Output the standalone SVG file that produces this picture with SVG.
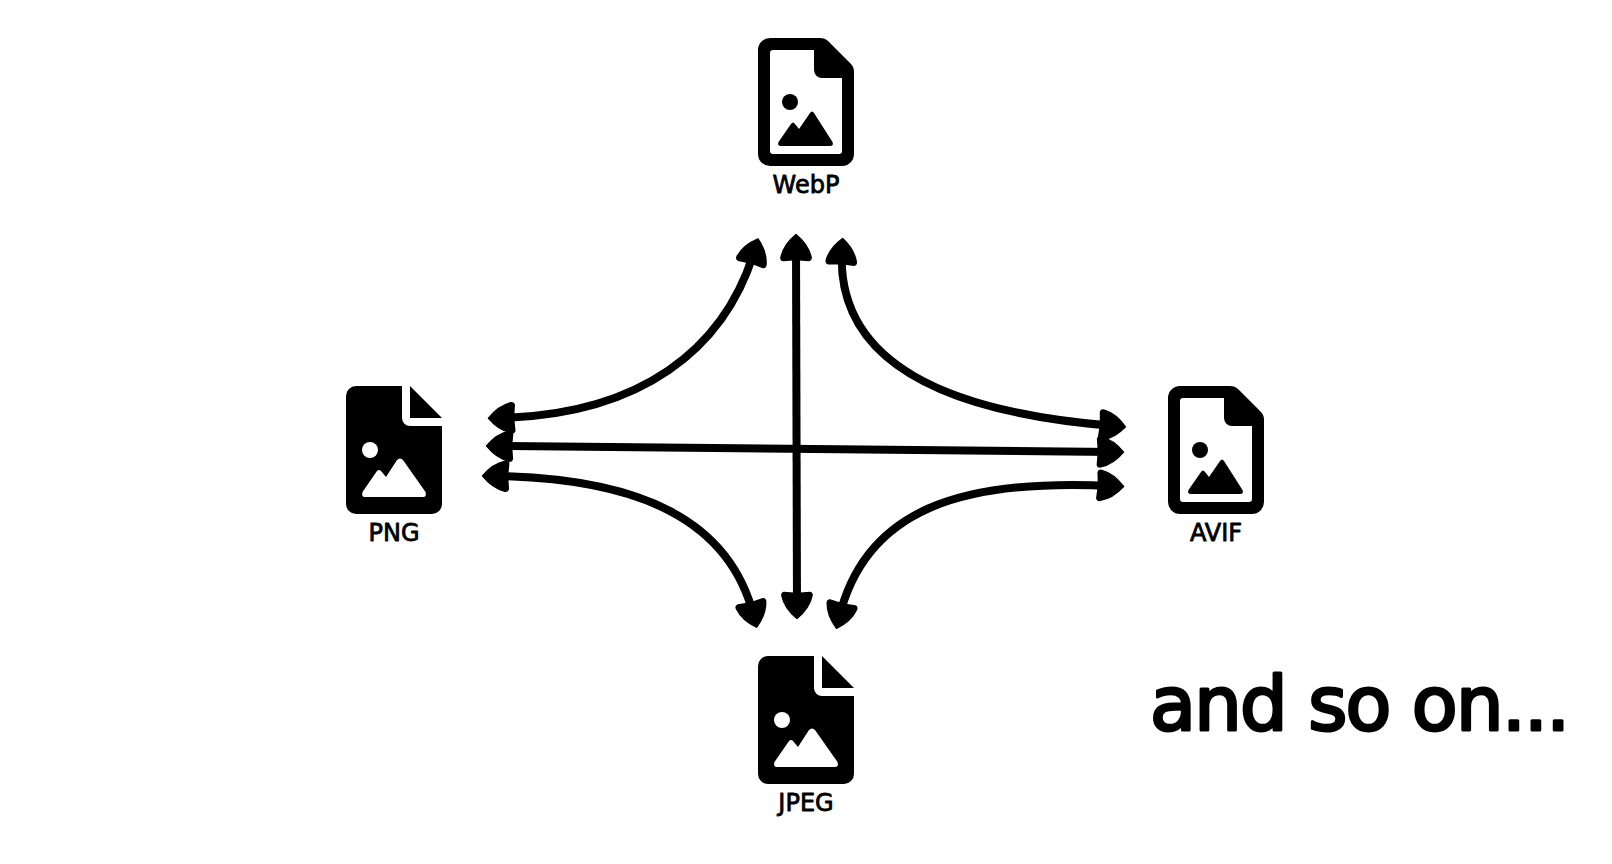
<svg xmlns="http://www.w3.org/2000/svg" width="1612" height="864" viewBox="0 0 1612 864">
<style>
.lbl{font-family:"DejaVu Sans","Liberation Sans",sans-serif;font-size:24px;text-anchor:middle;fill:#000;stroke:#000;stroke-width:.8px;stroke-linejoin:round}
.big{font-family:"DejaVu Sans","Liberation Sans",sans-serif;font-size:75px;fill:#000;stroke:#000;stroke-width:3px;stroke-linejoin:round}
.conn{fill:none;stroke:#000;stroke-width:8;marker-start:url(#head);marker-end:url(#head)}
</style>
<defs>
<marker id="head" viewBox="0 0 30 34" markerUnits="userSpaceOnUse" markerWidth="30" markerHeight="34" refX="17" refY="17" orient="auto-start-reverse">
<path d="M27.500,17C21,9 12,3.500 5,2Q2,1.500 1.500,4L2.500,17L1.500,30Q2,32.500 5,32C12,30.500 21,25 27.500,17Z" fill="#000" stroke="#000" stroke-width="1.500" stroke-linejoin="round"/>
</marker>
<path id="solid" d="M10,0H56V32a8,8 0 0 0 8,8H96V118a10,10 0 0 1-10,10H10a10,10 0 0 1-10-10V10A10,10 0 0 1 10,0ZM64,0L96,32H64Z" fill="#000"/>
<path id="outline" fill-rule="evenodd" d="M12,0H62Q67,0 70,3L93,26Q96,29 96,34V116a12,12 0 0 1-12,12H12a12,12 0 0 1-12-12V12A12,12 0 0 1 12,0ZM15,12Q12,12 12,15V113Q12,116 15,116H81Q84,116 84,113V40H64a8,8 0 0 1-8-8V12Z" fill="#000"/>
<path id="mtSolid" d="M16.500,106L31,85Q33,83 35,85L40,91L51,74Q54,71 57,74L79.500,106Q81,111 77,111H19Q15,111 16.500,106Z"/>
<path id="mtLine" d="M20.500,104L33,86Q35,83 37,86L41,91L52,75Q54,72 56,75L74.500,104Q76,108 72,108H23Q19,108 20.500,104Z" fill="#000"/>
</defs>
<rect width="1612" height="864" fill="#fff"/>
<g id="connectors">
<path class="conn" d="M499,418C640,415 725,350 755,249"/>
<path class="conn" d="M1115,426C950,413 835,365 842,249"/>
<path class="conn" d="M493,476C640,478 730,520 754,617"/>
<path class="conn" d="M1113,486C960,478 865,510 839,618"/>
<path class="conn" d="M497,446L1113,452"/>
<path class="conn" d="M796,245L797,608"/>
</g>
<g id="webp" transform="translate(758,38)">
<use href="#outline"/><circle cx="32" cy="64" r="8"/><use href="#mtLine"/>
<text class="lbl" x="48" y="155">WebP</text>
</g>
<g id="png" transform="translate(346,386)">
<use href="#solid"/><circle cx="24" cy="64" r="8" fill="#fff"/><use href="#mtSolid" fill="#fff"/>
<text class="lbl" x="48" y="155">PNG</text>
</g>
<g id="avif" transform="translate(1168,386)">
<use href="#outline"/><circle cx="32" cy="64" r="8"/><use href="#mtLine"/>
<text class="lbl" x="48" y="155">AVIF</text>
</g>
<g id="jpeg" transform="translate(758,656)">
<use href="#solid"/><circle cx="24" cy="64" r="8" fill="#fff"/><use href="#mtSolid" fill="#fff"/>
<text class="lbl" x="48" y="155">JPEG</text>
</g>
<g id="note">
<text class="big" x="1150" y="730" textLength="420" lengthAdjust="spacing">and so on...</text>
</g>
</svg>
